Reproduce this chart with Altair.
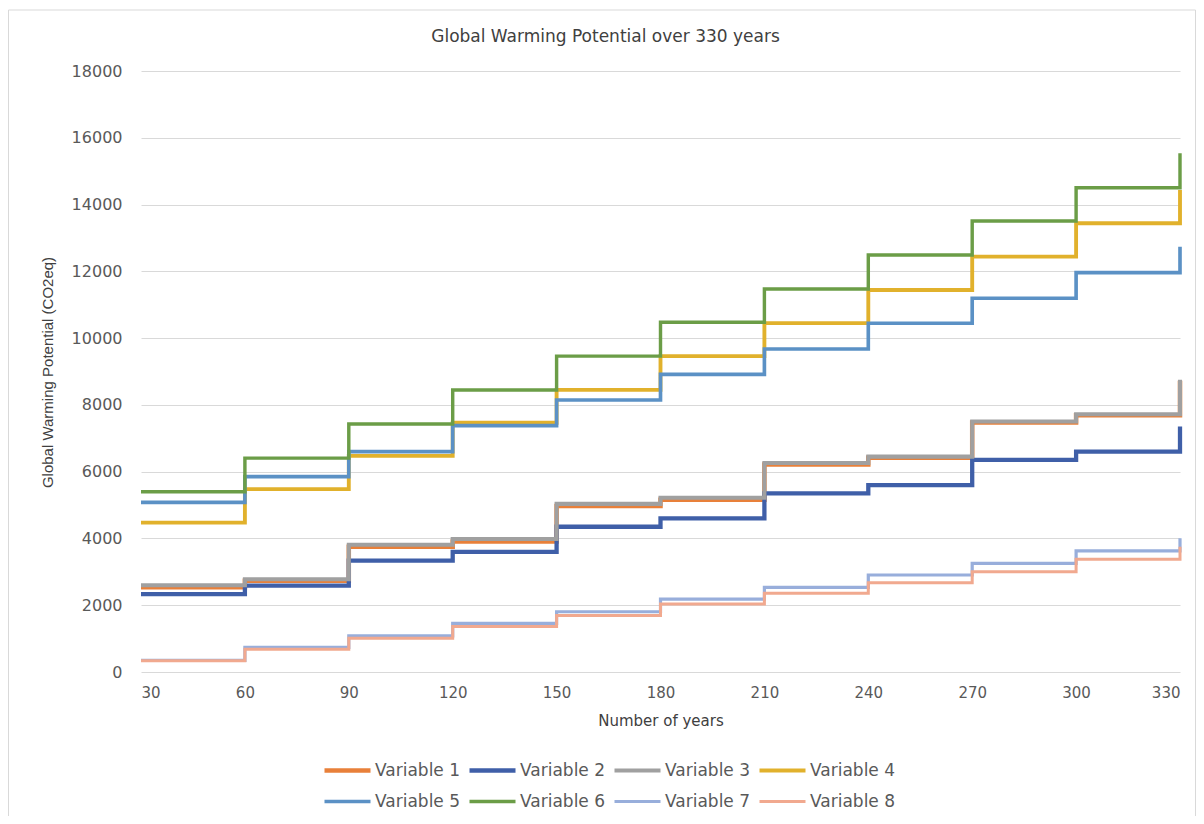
import altair as alt
import pandas as pd

years = [30, 60, 90, 120, 150, 180, 210, 240, 270, 300, 330]
variables = ["Variable 1", "Variable 2", "Variable 3", "Variable 4",
             "Variable 5", "Variable 6", "Variable 7", "Variable 8"]

v1 = [2540, 2730, 3750, 3910, 4975, 5160, 6215, 6420, 7470, 7690, 8720]
v2 = [2330, 2590, 3335, 3600, 4350, 4600, 5350, 5600, 6350, 6600, 7350]
v3 = [2600, 2780, 3810, 3985, 5035, 5220, 6260, 6450, 7500, 7720, 8750]
v4 = [4475, 5475, 6475, 7465, 8450, 9460, 10450, 11440, 12440, 13440, 14435]
v5 = [5080, 5850, 6600, 7380, 8145, 8915, 9675, 10445, 11195, 11960, 12735]
v6 = [5400, 6405, 7430, 8445, 9460, 10475, 11470, 12490, 13505, 14505, 15535]
v7 = [350, 740, 1080, 1455, 1805, 2180, 2535, 2905, 3255, 3625, 4005]
v8 = [340, 680, 1010, 1360, 1690, 2035, 2355, 2675, 3005, 3375, 3755]
series = [v1, v2, v3, v4, v5, v6, v7, v8]

y_ticks = [0, 2000, 4000, 6000, 8000, 10000, 12000, 14000, 16000, 18000]

colors = ["#E8803A", "#3F5FA8", "#A0A0A0", "#E1B12C",
          "#5B91C5", "#6B9D47", "#98AEDB", "#F1A98F"]
widths = [4.5, 3, 3.2, 3, 3, 3, 3, 3]

rows = []
for name, vals in zip(variables, series):
    for yr, v in zip(years, vals):
        rows.append({"Year": yr, "GWP": v, "Variable": name})
df = pd.DataFrame(rows)

TXT = "#595959"

legend_opts = dict(
    title=None, orient="none", legendX=181, legendY=684, columns=4,
    direction="horizontal",
    symbolType="stroke", symbolSize=2116, clipHeight=31,
    labelFont="DejaVu Sans", labelFontSize=17, labelColor=TXT,
    labelOffset=2, columnPadding=6, rowPadding=0, padding=0,
    labelLimit=300,
)

lines = alt.Chart(df).mark_line(interpolate="step-after").encode(
    x=alt.X("Year:Q",
            scale=alt.Scale(domain=[30, 330], nice=False, zero=False),
            axis=alt.Axis(values=years, format="d", title="Number of years",
                          grid=False, domain=False, ticks=False,
                          labelPadding=13, labelFont="DejaVu Sans", labelFontSize=15,
                          labelColor=TXT, titleFont="DejaVu Sans", titleFontSize=15,
                          titleFontWeight="normal", titleColor="#404040",
                          titleY=48, titleBaseline="middle")),
    y=alt.Y("GWP:Q",
            scale=alt.Scale(domain=[0, 18000], nice=False),
            axis=alt.Axis(values=y_ticks, format="d",
                          title="Global Warming Potential (CO2eq)",
                          grid=True, gridColor="#D9D9D9", gridWidth=1,
                          domain=False, ticks=False, labelPadding=19,
                          labelFont="DejaVu Sans", labelFontSize=16, labelColor=TXT,
                          titleFont="Liberation Sans", titleFontSize=15,
                          titleFontWeight="normal", titleColor="#404040",
                          titleAngle=-90, titleX=-94, titleY=301,
                          titleAlign="center", titleBaseline="middle")),
    color=alt.Color("Variable:N",
                    scale=alt.Scale(domain=variables, range=colors),
                    legend=alt.Legend(**legend_opts)),
    strokeWidth=alt.StrokeWidth("Variable:N",
                                scale=alt.Scale(domain=variables, range=widths),
                                legend=alt.Legend(**legend_opts)),
)

frame = alt.Chart(pd.DataFrame({"k": [0]})).mark_rect(
    filled=False, stroke="#D9D9D9", strokeWidth=1
).encode(
    x=alt.value(-132.5), x2=alt.value(1054.5),
    y=alt.value(-61), y2=alt.value(900)
)

chart = alt.layer(frame, lines).properties(
    width=1039, height=601,
    padding={"left": 133, "top": 63, "right": 16, "bottom": 144},
    autosize=alt.AutoSizeParams(type="none"),
    background="white",
    title=alt.TitleParams("Global Warming Potential over 330 years",
                          font="DejaVu Sans", fontSize=17, fontWeight="normal",
                          color="#404040", offset=25, dy=61, dx=-55,
                          anchor="middle", frame="group"),
).configure_view(stroke=None)

chart.save("out.html", embed_options={"renderer": "svg", "actions": False})
